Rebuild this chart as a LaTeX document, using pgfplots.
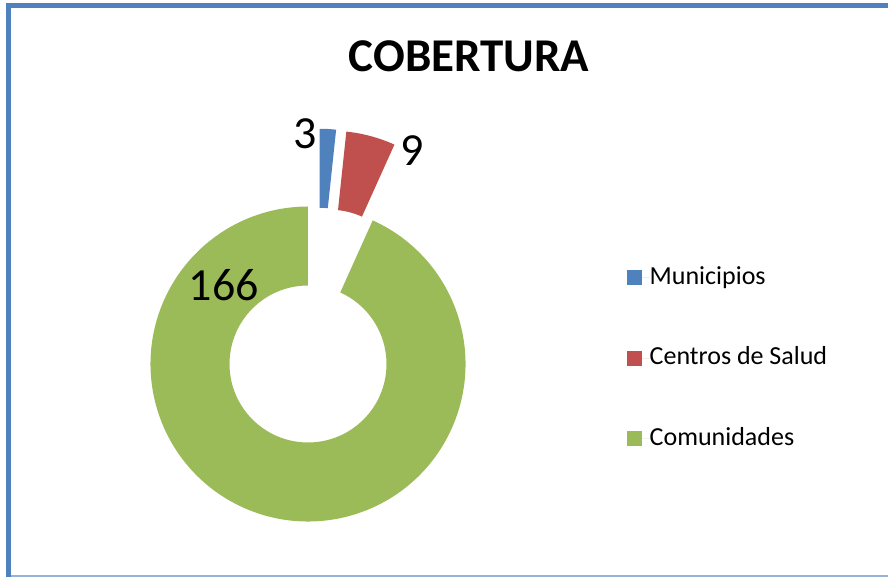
\documentclass[border=0pt]{standalone}
\usepackage{pgfplots}
\pgfplotsset{compat=1.18}
\usepackage{pgfplotstable}
\usepackage{fontspec}
\setmainfont{Carlito}
\definecolor{cblue}{HTML}{4F81BD}
\definecolor{cred}{HTML}{C0504D}
\definecolor{cgreen}{HTML}{9BBB59}
\definecolor{cframe}{HTML}{4F81BD}
\definecolor{cframelight}{HTML}{95B3D7}

% value = slice value; dx, dy = explosion offset (px)
\pgfplotstableread{
name value dx dy
Municipios 3 11.5 77.7
Centros 9 21.7 75.8
Comunidades 166 0 0
}\cobertura

\newcommand\slice[5]{%
  \fill[#1] ({308+#4+157.5*cos(#2)},{213+#5+157.5*sin(#2)})
    arc[start angle=#2,end angle=#3,radius=157.5pt]
    -- ({308+#4+78.5*cos(#3)},{213+#5+78.5*sin(#3)})
    arc[start angle=#3,end angle=#2,radius=78.5pt] -- cycle;}

\begin{document}
\begin{tikzpicture}
\useasboundingbox (0,0) rectangle (888pt,577pt);
\pgfplotstablegetelem{0}{value}\of\cobertura \pgfmathsetmacro\va{\pgfplotsretval}
\pgfplotstablegetelem{1}{value}\of\cobertura \pgfmathsetmacro\vb{\pgfplotsretval}
\pgfplotstablegetelem{2}{value}\of\cobertura \pgfmathsetmacro\vc{\pgfplotsretval}
\pgfplotstablegetelem{0}{dx}\of\cobertura \pgfmathsetmacro\dxa{\pgfplotsretval}
\pgfplotstablegetelem{1}{dx}\of\cobertura \pgfmathsetmacro\dxb{\pgfplotsretval}
\pgfplotstablegetelem{2}{dx}\of\cobertura \pgfmathsetmacro\dxc{\pgfplotsretval}
\pgfplotstablegetelem{0}{dy}\of\cobertura \pgfmathsetmacro\dya{\pgfplotsretval}
\pgfplotstablegetelem{1}{dy}\of\cobertura \pgfmathsetmacro\dyb{\pgfplotsretval}
\pgfplotstablegetelem{2}{dy}\of\cobertura \pgfmathsetmacro\dyc{\pgfplotsretval}
\pgfmathsetmacro\tot{\va+\vb+\vc}
\pgfmathsetmacro\aA{90}
\pgfmathsetmacro\aB{\aA-360*(\va/\tot)}
\pgfmathsetmacro\aC{\aB-360*(\vb/\tot)}
\pgfmathsetmacro\aD{\aC-360*(\vc/\tot)}
\begin{axis}[
  at={(0,0)}, anchor=south west,
  x=1pt, y=1pt, xmin=0, xmax=888, ymin=0, ymax=577,
  hide axis, clip=false,
  legend cell align=left,
  legend style={at={(axis cs:626.7,309.5)}, anchor=north west,
    draw=none, fill=none, inner sep=0pt, outer sep=0pt,
    row sep=59.5pt, column sep=0pt,
    font=\fontsize{26}{26}\selectfont,
    nodes={inner sep=0pt, text height=17pt, text depth=4pt}},
  legend image code/.code={\fill[#1] (0pt,-7.5pt) rectangle (15pt,7.5pt);
    \path (0pt,0pt) -- (23pt,0pt);},
]
\addlegendimage{fill=cblue, draw=none}
\addlegendentry{Municipios}
\addlegendimage{fill=cred, draw=none}
\addlegendentry{Centros de Salud}
\addlegendimage{fill=cgreen, draw=none}
\addlegendentry{Comunidades}
\slice{cblue}{\aA}{\aB}{\dxa}{\dya}
\slice{cred}{\aB}{\aC}{\dxb}{\dyb}
\slice{cgreen}{\aC}{\aD}{\dxc}{\dyc}
\node[font=\fontsize{46}{46}\selectfont, inner sep=0pt] at (axis cs:305.5,443) {3};
\node[font=\fontsize{46}{46}\selectfont, inner sep=0pt] at (axis cs:412.3,426) {9};
\node[font=\fontsize{46}{46}\selectfont, inner sep=0pt] at (axis cs:223.7,292) {166};
\node[font=\fontsize{47}{47}\selectfont\bfseries, inner sep=0pt] at (axis cs:469,521) {COBERTURA};
\end{axis}
\draw[cframe, line width=4.5pt] (8.7pt,0pt) -- (8.7pt,571.7pt) -- (888pt,571.7pt);
\draw[cframelight, line width=1.5pt] (11pt,1pt) -- (888pt,1pt);
\end{tikzpicture}
\end{document}
